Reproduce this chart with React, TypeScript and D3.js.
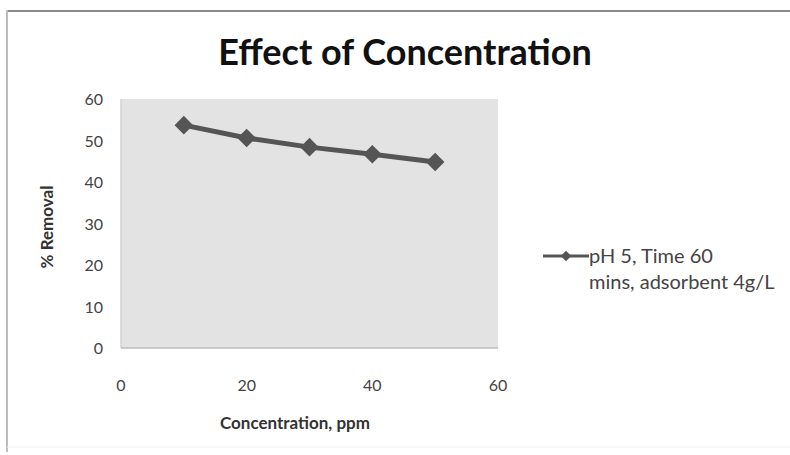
import { useEffect, useRef } from "react";
import * as d3 from "d3";

const concentration = [10, 20, 30, 40, 50];
const removal = [53.7, 50.6, 48.4, 46.7, 44.8];
const xTicks = [0, 20, 40, 60];
const yTicks = [0, 10, 20, 30, 40, 50, 60];
const seriesLabel = ["pH 5, Time 60", "mins, adsorbent 4g/L"];

const FONT = "Lato, 'Open Sans', sans-serif";

const App = () => {
  const svgRef = useRef<SVGSVGElement>(null);

  useEffect(() => {
    if (!svgRef.current) return;
    const svg = d3.select(svgRef.current);
    svg.selectAll("*").remove();

    const plot = { left: 121, right: 498, top: 99, bottom: 348 };

    const x = d3.scaleLinear().domain([0, 60]).range([plot.left, plot.right]);
    const y = d3.scaleLinear().domain([0, 60]).range([plot.bottom, plot.top]);

    // outer frame
    svg.append("rect").attr("width", 790).attr("height", 455).attr("fill", "#fff");
    svg
      .append("line")
      .attr("x1", 6).attr("x2", 790).attr("y1", 11).attr("y2", 11)
      .attr("stroke", "#8a8a8a").attr("stroke-width", 2);
    svg
      .append("line")
      .attr("x1", 7).attr("x2", 7).attr("y1", 10).attr("y2", 452)
      .attr("stroke", "#bdbdbd").attr("stroke-width", 2);
    svg
      .append("line")
      .attr("x1", 7).attr("x2", 790).attr("y1", 447).attr("y2", 447)
      .attr("stroke", "#f0f0f0").attr("stroke-width", 1);

    // plot area
    svg
      .append("rect")
      .attr("x", plot.left).attr("y", plot.top)
      .attr("width", plot.right - plot.left).attr("height", plot.bottom - plot.top)
      .attr("fill", "#e3e3e3");
    svg
      .append("line")
      .attr("x1", plot.left).attr("x2", plot.left)
      .attr("y1", plot.top).attr("y2", plot.bottom)
      .attr("stroke", "#d2d2d2").attr("stroke-width", 1.5);
    svg
      .append("line")
      .attr("x1", plot.left).attr("x2", plot.right)
      .attr("y1", plot.bottom).attr("y2", plot.bottom)
      .attr("stroke", "#bcbcbc").attr("stroke-width", 1.5);

    // title
    svg
      .append("text")
      .attr("x", 405).attr("y", 65)
      .attr("text-anchor", "middle")
      .style("font-family", FONT).style("font-weight", 700).style("font-size", "36px")
      .attr("fill", "#111")
      .text("Effect of Concentration");

    // y tick labels
    svg
      .append("g")
      .selectAll("text")
      .data(yTicks)
      .join("text")
      .attr("x", 103)
      .attr("y", (d) => y(d) + 6)
      .attr("text-anchor", "end")
      .style("font-family", FONT).style("font-size", "16px")
      .attr("fill", "#444")
      .text((d) => d);

    // x tick labels
    svg
      .append("g")
      .selectAll("text")
      .data(xTicks)
      .join("text")
      .attr("x", (d) => x(d))
      .attr("y", 391)
      .attr("text-anchor", "middle")
      .style("font-family", FONT).style("font-size", "16px")
      .attr("fill", "#444")
      .text((d) => d);

    // axis titles
    svg
      .append("text")
      .attr("x", 295).attr("y", 429)
      .attr("text-anchor", "middle")
      .style("font-family", FONT).style("font-weight", 700).style("font-size", "17px")
      .attr("fill", "#333")
      .text("Concentration, ppm");
    svg
      .append("text")
      .attr("transform", "translate(53,227) rotate(-90)")
      .attr("text-anchor", "middle")
      .style("font-family", FONT).style("font-weight", 700).style("font-size", "17px")
      .attr("fill", "#333")
      .text("% Removal");

    // series
    const points = concentration.map((c, i) => [c, removal[i]] as [number, number]);
    const line = d3.line<[number, number]>().x((d) => x(d[0])).y((d) => y(d[1]));
    svg
      .append("path")
      .attr("d", line(points) || "")
      .attr("fill", "none")
      .attr("stroke", "#555")
      .attr("stroke-width", 5);
    const diamond = d3.symbol().type(d3.symbolDiamond2).size(220);
    svg
      .append("g")
      .selectAll("path")
      .data(points)
      .join("path")
      .attr("transform", (d) => `translate(${x(d[0])},${y(d[1])})`)
      .attr("d", diamond() || "")
      .attr("fill", "#555");

    // legend
    const legend = svg.append("g").attr("transform", "translate(543,256)");
    legend
      .append("line")
      .attr("x1", 0).attr("x2", 46).attr("y1", 0).attr("y2", 0)
      .attr("stroke", "#555").attr("stroke-width", 3);
    legend
      .append("path")
      .attr("transform", "translate(23,0)")
      .attr("d", d3.symbol().type(d3.symbolDiamond2).size(70)() || "")
      .attr("fill", "#555");
    legend
      .selectAll("text")
      .data(seriesLabel)
      .join("text")
      .attr("x", 46)
      .attr("y", (_d, i) => 7 + i * 26)
      .style("font-family", FONT).style("font-size", "20px")
      .attr("fill", "#444")
      .text((d) => d);
  }, []);

  return (
    <div style={{ position: "absolute", left: 0, top: 0 }}>
      <svg ref={svgRef} width={790} height={455} style={{ display: "block" }} />
    </div>
  );
};

export default App;
